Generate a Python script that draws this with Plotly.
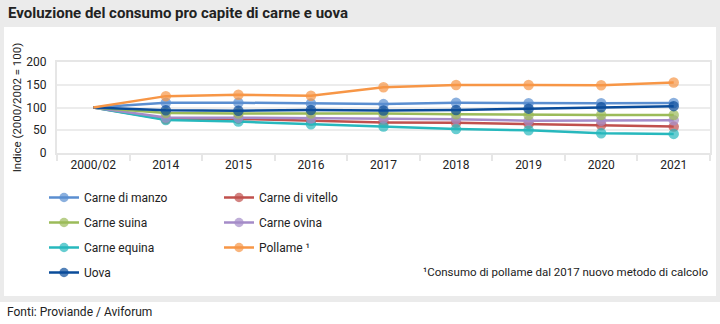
import plotly.graph_objects as go

categories = ["2000/02", "2014", "2015", "2016", "2017", "2018", "2019", "2020", "2021"]

manzo = [100, 110.5, 110.5, 109, 107.5, 110.5, 109.5, 109.5, 110]
vitello = [100, 74, 75, 71, 67, 66.5, 64, 61.5, 58]
suina = [100, 88, 87, 87, 87, 85, 83.5, 83.5, 83.5]
ovina = [100, 78, 77.5, 76, 76, 74, 71, 71, 72]
equina = [100, 72.5, 69, 63, 58, 52.5, 50, 43.5, 42]
pollame = [100, 125, 128, 126, 144.5, 149.5, 149.5, 149, 155]
uova = [100, 94, 93, 94.5, 93.5, 94.5, 97.5, 100.5, 103]

y_ticks = [0, 50, 100, 150, 200]

col1 = [("Carne di manzo", manzo, "#5a8ed0"),
        ("Carne suina", suina, "#9bbb59"),
        ("Carne equina", equina, "#27b8bd"),
        ("Uova", uova, "#0a4c9a")]
col2 = [("Carne di vitello", vitello, "#c0504d"),
        ("Carne ovina", ovina, "#a48bc8"),
        ("Pollame ¹", pollame, "#f79646")]

FONT = "Roboto"
W, H = 720, 324
L, R, T, B = 57, 10, 62, 171
pw, ph = W - L - R, H - T - B


def px_x(x):
    return (x - L) / pw


def px_y(y):
    return (H - B - y) / ph


fig = go.Figure()
msizes = [0] + [10.5] * (len(categories) - 1)

order = [("Carne di vitello", vitello, "#c0504d", "legend2"),
         ("Carne equina", equina, "#27b8bd", "legend"),
         ("Carne ovina", ovina, "#a48bc8", "legend2"),
         ("Carne suina", suina, "#9bbb59", "legend"),
         ("Carne di manzo", manzo, "#5a8ed0", "legend"),
         ("Uova", uova, "#0a4c9a", "legend"),
         ("Pollame ¹", pollame, "#f79646", "legend2")]
rank1 = {n: i for i, (n, _, _) in enumerate(col1)}
rank2 = {n: i for i, (n, _, _) in enumerate(col2)}

for name, vals, color, lg in order:
    rank = rank1.get(name, rank2.get(name, 0))
    fig.add_trace(go.Scatter(
        x=categories, y=vals, name=name, mode="lines+markers",
        line=dict(color=color, width=2.5),
        marker=dict(color=color, size=msizes, line=dict(width=0)),
        legend=lg, legendgroup=name, legendrank=rank + 1,
        hoverinfo="skip",
    ))

# background frame
fig.add_shape(type="rect", xref="paper", yref="paper",
              x0=px_x(0), x1=px_x(W), y0=px_y(302), y1=px_y(0),
              fillcolor="#ebebeb", line=dict(width=0), layer="below")
fig.add_shape(type="rect", xref="paper", yref="paper",
              x0=px_x(4), x1=px_x(716), y0=px_y(296), y1=px_y(27),
              fillcolor="#ffffff", line=dict(width=0), layer="below")

fig.add_annotation(text="<b>Evoluzione del consumo pro capite di carne e uova</b>",
                   xref="paper", yref="paper", x=px_x(6), y=px_y(13),
                   xanchor="left", yanchor="middle", showarrow=False,
                   font=dict(family=FONT, size=15, color="#222222"))
fig.add_annotation(text="¹Consumo di pollame dal 2017 nuovo metodo di calcolo",
                   xref="paper", yref="paper", x=px_x(710), y=px_y(272),
                   xanchor="right", yanchor="middle", showarrow=False,
                   font=dict(family=FONT, size=11.5, color="#222222"))
fig.add_annotation(text="Fonti: Proviande / Aviforum",
                   xref="paper", yref="paper", x=px_x(5), y=px_y(312),
                   xanchor="left", yanchor="middle", showarrow=False,
                   font=dict(family=FONT, size=12, color="#222222"))

legend_common = dict(orientation="v", traceorder="grouped", tracegroupgap=6,
                     bgcolor="rgba(0,0,0,0)", xanchor="left", yanchor="top",
                     font=dict(family=FONT, size=12, color="#222222"))

fig.update_layout(
    width=W, height=H,
    margin=dict(l=L, r=R, t=T, b=B, autoexpand=False),
    paper_bgcolor="#ffffff", plot_bgcolor="#ffffff",
    font=dict(family=FONT, size=12, color="#222222"),
    showlegend=True,
    legend=dict(x=px_x(44), y=px_y(183), **legend_common),
    legend2=dict(x=px_x(219), y=px_y(183), **legend_common),
    xaxis=dict(type="category", showgrid=False, showline=True, mirror=True,
               linecolor="#e6e6e6", linewidth=2, ticks="outside",
               tickson="boundaries", ticklen=6, tickcolor="#e6e6e6",
               tickwidth=2, tickfont=dict(size=12, color="#222222"),
               range=[-0.5, len(categories) - 0.5], fixedrange=True),
    yaxis=dict(range=[0, 200], tickvals=y_ticks, showgrid=True,
               gridcolor="#ececec", gridwidth=2, showline=True, mirror=True,
               linecolor="#e6e6e6", linewidth=2, zeroline=False,
               ticks="", ticklabelstandoff=6,
               title=dict(text="Indice (2000/2002 = 100)", standoff=2,
                          font=dict(size=11.5, color="#222222")),
               tickfont=dict(size=12, color="#222222"), fixedrange=True),
)

fig.write_html("out.html")
